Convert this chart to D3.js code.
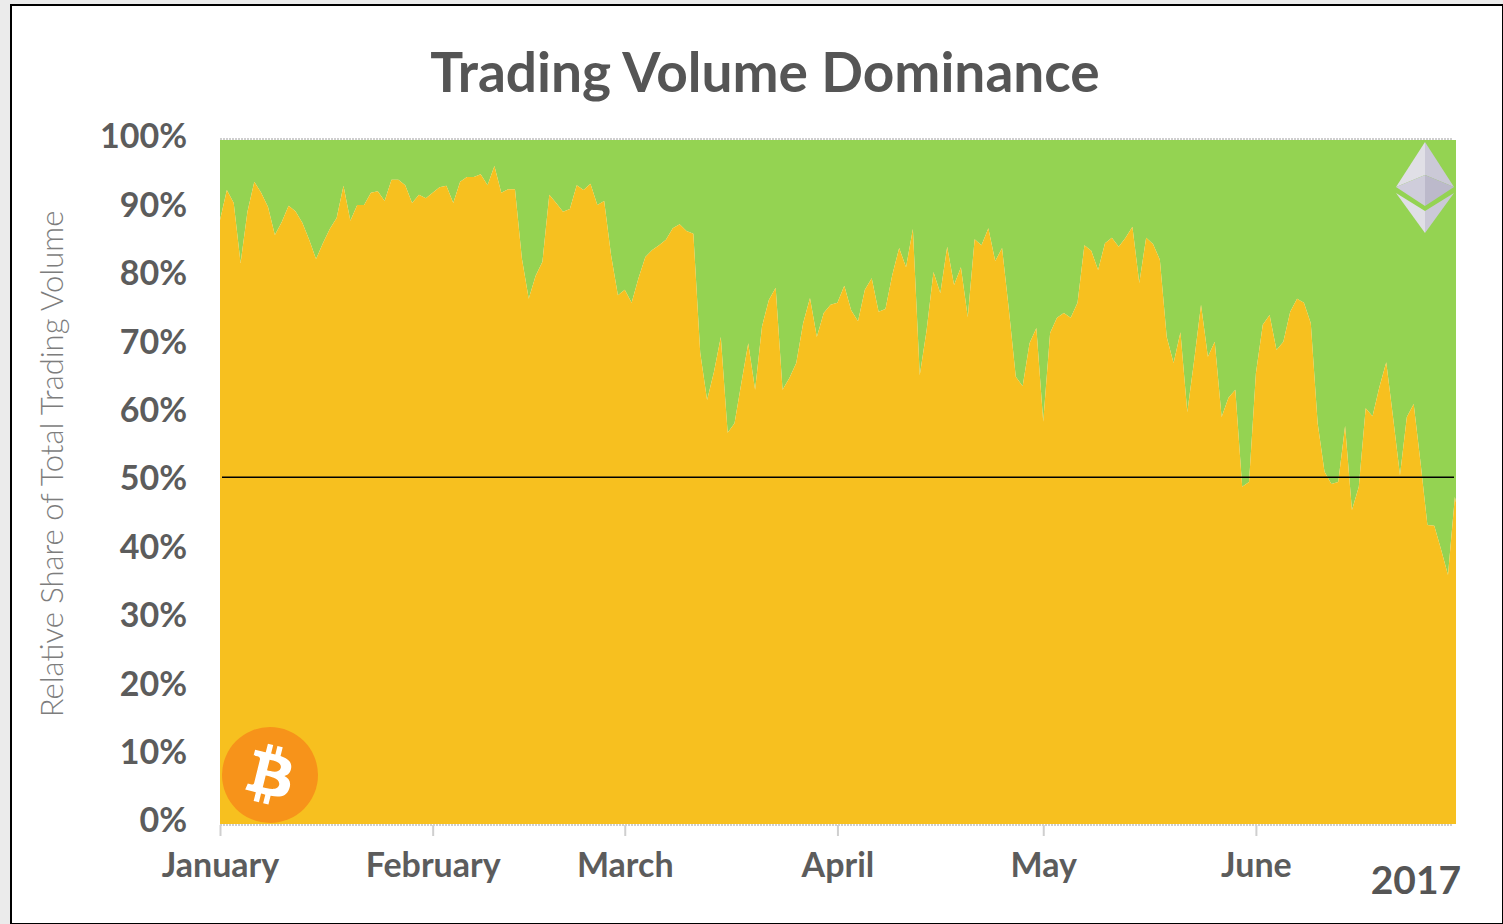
<!DOCTYPE html>
<html><head><meta charset="utf-8">
<script src="https://cdnjs.cloudflare.com/ajax/libs/d3/7.8.5/d3.min.js"></script>
<style>
html,body{margin:0;padding:0;background:#ebebeb;overflow:hidden}
svg{display:block}
text{font-family:Lato,"Open Sans",sans-serif}
</style></head><body>
<svg id="c" width="1503" height="924"></svg>
<script>
const startDate = "2017-01-01";
const endDate = "2017-06-30T04:00:00Z";
const bitcoinShare = [
88.3,92.7,90.8,82.0,89.5,93.9,92.3,90.2,86.1,88.0,90.4,89.6,87.9,85.4,82.6,84.9,87.0,88.6,93.3,88.2,90.5,90.5,92.3,92.5,91.1,94.2,94.2,93.4,90.8,92.0,91.5,
92.3,93.1,93.3,90.8,93.9,94.6,94.6,95.0,93.4,96.2,92.3,92.8,92.8,82.7,76.8,80.1,82.2,92.0,90.8,89.5,89.9,93.4,92.7,93.6,90.5,91.1,83.2,77.3,
78.1,76.2,79.8,82.9,83.9,84.6,85.4,87.1,87.7,86.7,86.3,68.9,62.0,66.1,71.2,57.2,58.6,64.5,70.3,63.5,72.7,76.6,78.4,63.5,65.2,67.4,73.2,76.9,71.2,74.7,75.9,
76.2,78.7,75.1,73.5,78.1,79.8,74.9,75.3,80.3,84.2,81.4,87.0,65.6,72.2,80.7,77.6,84.4,78.8,81.4,74.1,85.5,84.6,87.1,82.3,84.2,75.1,65.4,64.0,70.3,72.5,
58.8,71.8,74.0,74.7,74.0,76.2,84.6,83.8,81.0,84.9,85.7,84.4,85.7,87.3,79.1,85.7,84.8,82.5,71.2,67.4,71.9,60.2,67.8,75.9,68.3,70.5,59.5,62.3,63.5,49.3,50.0,
65.9,73.0,74.4,69.3,70.5,74.9,76.8,76.2,73.2,58.6,51.5,49.7,50.0,58.2,45.9,49.3,60.8,59.6,63.9,67.5,59.4,51.0,59.5,61.4,52.8,43.7,43.6,40.1,36.4,47.8,43.0
];
const monthStarts = ["2017-01-01","2017-02-01","2017-03-01","2017-04-01","2017-05-01","2017-06-01"];
const monthLabels = ["January","February","March","April","May","June"];
const percentTicks = [0,10,20,30,40,50,60,70,80,90,100];
const parityLevel = 50.7;
const chartTitle = "Trading Volume Dominance";
const yTitle = "Relative Share of Total Trading Volume";
const yearLabel = "2017";

const DAY = 864e5, t0 = new Date(startDate).getTime();
const data = bitcoinShare.map((v,i)=>({date:new Date(t0+i*DAY),btc:v}));

const svg = d3.select("#c");
svg.append("rect").attr("x",11).attr("y",5).attr("width",1492).attr("height",919)
  .attr("fill","#fff").attr("stroke","#000").attr("stroke-width",2);

const L=220,R=1456,T=140,B=824;
const x = d3.scaleUtc().domain([new Date(startDate),new Date(endDate)]).range([L,R]);
const y = d3.scaleLinear().domain([0,100]).range([B,T]);

svg.append("clipPath").attr("id","plot").append("rect")
  .attr("x",L).attr("y",T).attr("width",R-L).attr("height",B-T);
const g = svg.append("g").attr("clip-path","url(#plot)");
g.append("path").datum(data).attr("fill","#94d352")
  .attr("d",d3.area().x(d=>x(d.date)).y0(d=>y(d.btc)).y1(y(100)));
g.append("path").datum(data).attr("fill","#f7c01f")
  .attr("d",d3.area().x(d=>x(d.date)).y0(y(0)).y1(d=>y(d.btc)));

// dotted frame lines
[T-1,B+1].forEach(p=>svg.append("line").attr("x1",L).attr("x2",R-3).attr("y1",p).attr("y2",p)
  .attr("stroke","#cfcfcf").attr("stroke-width",2).attr("stroke-dasharray","2 1"));

// parity line
svg.append("line").attr("x1",222).attr("x2",1454).attr("y1",y(parityLevel)).attr("y2",y(parityLevel))
  .attr("stroke","#000").attr("stroke-width",1.6);

// axes
const yAxis = svg.append("g").attr("transform",`translate(${L},0)`)
  .call(d3.axisLeft(y).tickValues(percentTicks).tickFormat(d=>d+"%").tickSize(0).tickPadding(33));
yAxis.select(".domain").remove();
yAxis.selectAll("text").attr("dy","0.32em").attr("y",-3)
  .style("font-size","34px").style("font-weight",700).attr("fill","#5c5c5c");

const xAxis = svg.append("g").attr("transform",`translate(0,${B+1})`)
  .call(d3.axisBottom(x).tickValues(monthStarts.map(d=>new Date(d)))
    .tickFormat((d,i)=>monthLabels[i]).tickSize(11).tickPadding(17));
xAxis.select(".domain").remove();
xAxis.selectAll("line").attr("stroke","#cfcfcf").attr("stroke-width",2);
xAxis.selectAll("text").style("font-size","34px").style("font-weight",700).attr("fill","#5c5c5c");

svg.append("text").attr("x",765).attr("y",92).attr("text-anchor","middle")
  .style("font-size","55px").style("font-weight",700).attr("fill","#555").text(chartTitle);
svg.append("text").attr("transform","translate(63,464) rotate(-90)").attr("text-anchor","middle")
  .style("font-size","31px").style("font-weight",300).attr("fill","#7d7d7d").text(yTitle);
svg.append("text").attr("x",1416).attr("y",894).attr("text-anchor","middle")
  .style("font-size","39px").style("font-weight",700).attr("fill","#555").text(yearLabel);

// bitcoin badge
const btc = svg.append("g").attr("transform","translate(270,775)");
btc.append("circle").attr("r",48).attr("fill","#f7931a");
btc.append("path").attr("transform","scale(1.5) translate(-32,-32)").attr("fill","#fff")
  .attr("d","M46.1 27.44c.64-4.27-2.61-6.57-7.06-8.1l1.44-5.78-3.52-.88-1.4 5.63c-.93-.23-1.88-.45-2.83-.67l1.41-5.66-3.52-.88-1.44 5.78c-.77-.17-1.52-.35-2.25-.53l0-.02-4.86-1.21-.94 3.76s2.61.6 2.56.64c1.43.36 1.68 1.3 1.64 2.05l-1.64 6.59c.1.03.23.06.37.12l-.37-.09-2.3 9.23c-.17.43-.62 1.08-1.61.83.04.05-2.56-.64-2.56-.64l-1.75 4.03 4.58 1.14c.85.21 1.69.44 2.51.65l-1.46 5.85 3.52.88 1.44-5.79c.96.26 1.9.5 2.81.73l-1.44 5.76 3.52.88 1.46-5.84c6 1.14 10.52.68 12.42-4.75 1.53-4.37-.08-6.9-3.24-8.54 2.3-.53 4.03-2.04 4.49-5.16zm-8.05 11.28c-1.09 4.37-8.46 2.01-10.85 1.41l1.94-7.75c2.39.6 10.05 1.78 8.91 6.34zm1.09-11.35c-.99 3.98-7.13 1.96-9.12 1.46l1.75-7.03c1.99.5 8.41 1.43 7.37 5.57z");

// ethereum badge
const eth = svg.append("g").attr("transform","translate(1425,142)");
[["M0 0L-29 45L0 33Z","#e0dfe6"],["M0 0L29 45L0 33Z","#cbc9d7"],
 ["M-29 45L0 33L0 64Z","#cfcddb"],["M29 45L0 33L0 64Z","#bcb9cb"],
 ["M-29 51L0 69L0 91Z","#e0dfe6"],["M29 51L0 69L0 91Z","#cbc9d7"]]
 .forEach(([d,f])=>eth.append("path").attr("d",d).attr("fill",f));
</script></body></html>
